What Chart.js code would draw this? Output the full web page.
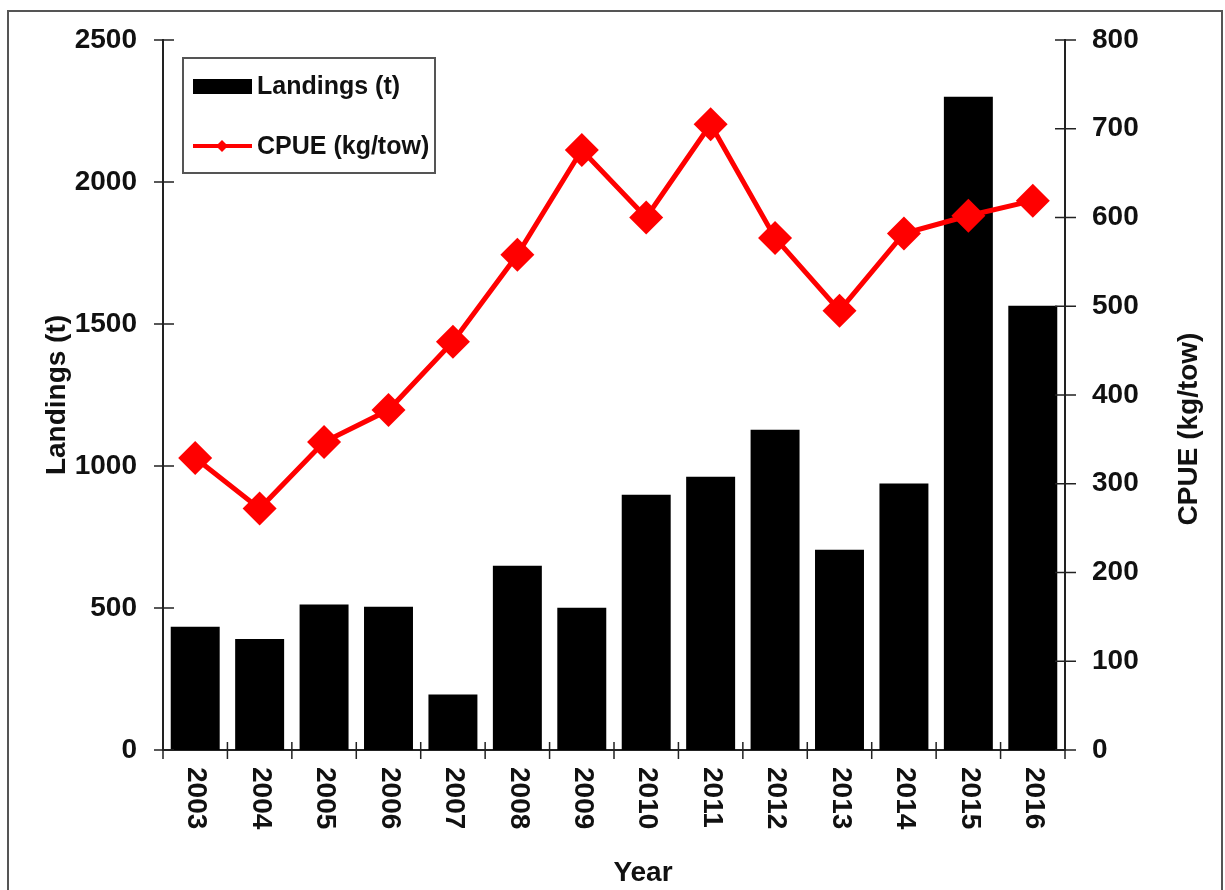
<!DOCTYPE html>
<html>
<head>
<meta charset="utf-8">
<script src="https://cdn.jsdelivr.net/npm/chart.js@4.4.0/dist/chart.umd.min.js"></script>
<style>
  html, body { margin: 0; padding: 0; background: #fff; }
  #wrap { position: relative; width: 1225px; height: 890px; overflow: hidden; }
  #frame { position: absolute; left: 7px; top: 10px; right: 2px; bottom: -10px; border: 2px solid #555; pointer-events: none; }
</style>
</head>
<body>
<div id="wrap">
  <canvas id="myChart" width="1225" height="890"></canvas>
  <div id="frame"></div>
</div>
<script>
// data
var years = ['2003', '2004', '2005', '2006', '2007', '2008', '2009', '2010', '2011', '2012', '2013', '2014', '2015', '2016'];
var landings = [434, 391, 512, 504, 195, 649, 501, 899, 962, 1128, 705, 938, 2300, 1564];
var cpue = [329, 272, 347, 383, 460, 558, 676, 600, 705, 577, 495, 582, 602, 619];
var leftTicks = [0, 500, 1000, 1500, 2000, 2500];
var rightTicks = [0, 100, 200, 300, 400, 500, 600, 700, 800];

var FONT = '"Liberation Sans", Arial, sans-serif';

// tick marks crossing the axes, rotated year labels, titles and legend box
var extras = {
  id: 'extras',
  afterDraw: function(chart) {
    var c = chart.ctx;
    var a = chart.chartArea;
    var x = chart.scales.x, y = chart.scales.y, y1 = chart.scales.y1;
    c.save();
    c.strokeStyle = '#222';
    c.lineWidth = 1.5;
    c.beginPath();
    leftTicks.forEach(function(v) {
      var py = y.getPixelForValue(v);
      c.moveTo(a.left - 9, py); c.lineTo(a.left + 11, py);
    });
    rightTicks.forEach(function(v) {
      var py = y1.getPixelForValue(v);
      c.moveTo(a.right - 10, py); c.lineTo(a.right + 11, py);
    });
    var half = (x.getPixelForValue(1) - x.getPixelForValue(0)) / 2;
    for (var i = 0; i <= years.length; i++) {
      var px = x.getPixelForValue(i) - half;
      c.moveTo(px, a.bottom - 8); c.lineTo(px, a.bottom + 9);
    }
    c.stroke();

    // year labels, reading top to bottom
    c.fillStyle = '#111';
    c.font = 'bold 28px ' + FONT;
    c.textAlign = 'left';
    c.textBaseline = 'middle';
    years.forEach(function(t, i) {
      c.save();
      c.translate(x.getPixelForValue(i) + 1, a.bottom + 17);
      c.rotate(Math.PI / 2);
      c.fillText(t, 0, 0);
      c.restore();
    });

    // x title
    c.textAlign = 'center';
    c.fillText('Year', 643, 873);

    // right title, reading bottom to top
    c.save();
    c.translate(1189, 429);
    c.rotate(-Math.PI / 2);
    c.fillText('CPUE (kg/tow)', 0, 0);
    c.restore();

    // legend
    c.fillStyle = '#fff';
    c.fillRect(183, 58, 252, 115);
    c.strokeStyle = '#555';
    c.lineWidth = 2;
    c.strokeRect(183, 58, 252, 115);
    c.fillStyle = '#000';
    c.fillRect(193, 79, 59, 15);
    c.strokeStyle = '#ff0000';
    c.lineWidth = 4;
    c.beginPath();
    c.moveTo(193, 146); c.lineTo(252, 146);
    c.stroke();
    c.fillStyle = '#ff0000';
    c.beginPath();
    c.moveTo(222, 140); c.lineTo(228, 146); c.lineTo(222, 152); c.lineTo(216, 146);
    c.closePath();
    c.fill();
    c.fillStyle = '#111';
    c.font = 'bold 25px ' + FONT;
    c.textAlign = 'left';
    c.fillText('Landings (t)', 257, 87);
    c.fillText('CPUE (kg/tow)', 257, 147);
    c.restore();
  }
};

var ctx = document.getElementById('myChart');
new Chart(ctx, {
  type: 'bar',
  data: {
    labels: years,
    datasets: [
      {
        type: 'line',
        label: 'CPUE (kg/tow)',
        data: cpue,
        yAxisID: 'y1',
        borderColor: '#ff0000',
        backgroundColor: '#ff0000',
        borderWidth: 5,
        pointStyle: 'rectRot',
        pointRadius: 17,
        pointBorderWidth: 0,
        pointBackgroundColor: '#ff0000',
        tension: 0,
        order: 0
      },
      {
        label: 'Landings (t)',
        data: landings,
        yAxisID: 'y',
        backgroundColor: '#000',
        barPercentage: 0.76,
        categoryPercentage: 1,
        order: 1
      }
    ]
  },
  options: {
    responsive: false,
    animation: false,
    layout: { padding: { top: 40, left: 0, right: 0, bottom: 0 } },
    plugins: {
      legend: { display: false },
      tooltip: { enabled: false }
    },
    scales: {
      x: {
        grid: { display: false, drawTicks: false },
        border: { display: true, color: '#222', width: 2 },
        ticks: { display: false },
        afterFit: function(s) { s.height = 140; }
      },
      y: {
        position: 'left',
        min: 0,
        max: 2500,
        grid: { display: false, drawTicks: false },
        border: { display: true, color: '#222', width: 2 },
        ticks: {
          stepSize: 500,
          padding: 26,
          color: '#111',
          font: { family: FONT, size: 28, weight: 'bold' },
          callback: function(v) { return String(v); }
        },
        title: {
          display: true,
          text: 'Landings (t)',
          color: '#111',
          padding: { top: 40 },
          font: { family: FONT, size: 28, weight: 'bold' }
        },
        afterFit: function(s) { s.width = 163; s.paddingTop = 0; s.paddingBottom = 0; }
      },
      y1: {
        position: 'right',
        min: 0,
        max: 800,
        grid: { display: false, drawTicks: false },
        border: { display: true, color: '#222', width: 2 },
        ticks: {
          stepSize: 100,
          padding: 27,
          color: '#111',
          font: { family: FONT, size: 28, weight: 'bold' },
          callback: function(v) { return String(v); }
        },
        afterFit: function(s) { s.width = 160; s.paddingTop = 0; s.paddingBottom = 0; }
      }
    }
  },
  plugins: [extras]
});
</script>
</body>
</html>
